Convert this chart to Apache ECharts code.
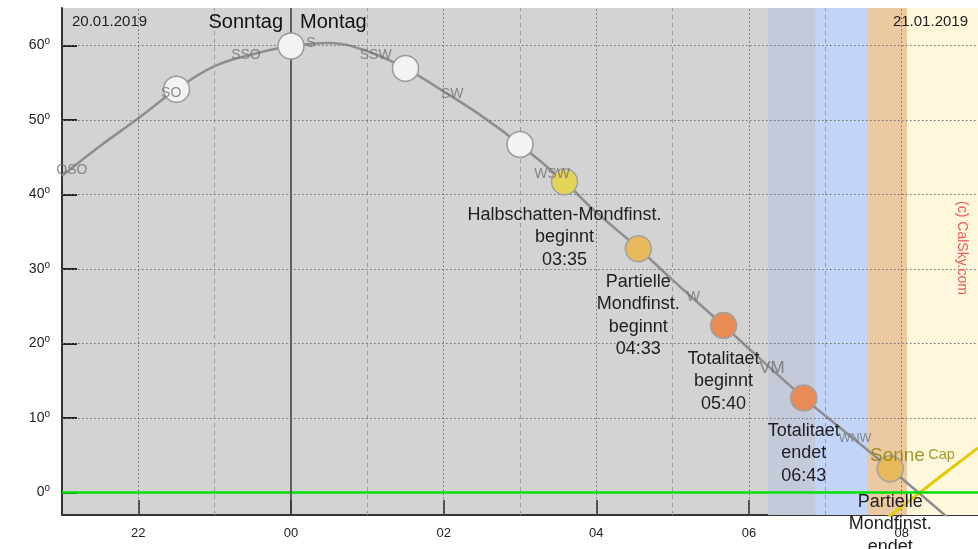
<!DOCTYPE html>
<html><head><meta charset="utf-8">
<script src="https://cdn.jsdelivr.net/npm/echarts@6/dist/echarts.min.js"></script>
<style>html,body{margin:0;padding:0;background:#fff}#c{width:978px;height:549px}</style>
</head><body><div id="c"></div>
<script>
const xTickHours = [22, 24, 26, 28, 30, 32];
const minorHours = [23, 25, 27, 29, 31, 33];
const yTickDeg = [0, 10, 20, 30, 40, 50, 60];
const moonHours = [21.0, 21.5, 22.0, 22.5, 23.0, 23.5, 24.0, 24.5, 25.0, 25.5, 26.0, 26.5, 27.0, 27.58, 28.0, 28.56, 29.0, 29.67, 30.0, 30.72, 31.0, 31.85, 32.7];
const moonAlt = [42.5, 46.5, 50.2, 54.1, 57.2, 58.8, 59.9, 60.3, 59.2, 56.9, 53.8, 50.5, 46.7, 41.7, 37.6, 32.7, 28.5, 22.4, 19.3, 12.7, 10.3, 3.2, -4.2];
const hourMarkHours = [22.5, 24.0, 25.5, 27.0];
const hourMarkAlt = [54.1, 59.9, 56.9, 46.7];
const eventHours = [27.583, 28.55, 29.667, 30.717, 31.85];
const eventAlt = [41.7, 32.7, 22.4, 12.7, 3.2];
const eventLabels = ['Halbschatten-Mondfinst.\nbeginnt\n03:35', 'Partielle\nMondfinst.\nbeginnt\n04:33', 'Totalitaet\nbeginnt\n05:40', 'Totalitaet\nendet\n06:43', 'Partielle\nMondfinst.\nendet'];
const eventColors = ['#e2d457', '#e6b95b', '#e88b55', '#e88b55', '#e6b95b'];
const compassLabels = ['OSO', 'SO', 'SSO', 'S', 'SSW', 'SW', 'WSW', 'W', 'VM', 'WNW'];
const compassHours = [21.13, 22.43, 23.41, 24.26, 25.11, 26.11, 27.42, 29.27, 30.30, 31.39];
const compassAlt = [43.3, 53.6, 58.7, 60.3, 58.7, 53.4, 42.7, 26.2, 16.7, 7.2];
const bandStarts = [30.25, 30.87, 31.55, 32.07];
const bandEnds = [30.87, 31.55, 32.07, 33.0];
const bandColors = ['#c5cadb', '#c2d4f8', '#ebc9a1', '#fef7dc'];
const sunHours = [31.5, 32.0, 32.5, 33.0];
const sunAlt = [-5.9, -1.9, 2.1, 6.0];

const chart = echarts.init(document.getElementById('c'));
const FONT = 'Liberation Sans';
const hourFmt = v => String(((v % 24) + 24) % 24).padStart(2, '0');

chart.setOption({
  animation: false,
  backgroundColor: '#ffffff',
  textStyle: { fontFamily: FONT },
  grid: { left: 62, right: 0, top: 8, bottom: 34, show: true, backgroundColor: '#d3d3d3', borderWidth: 0 },
  xAxis: {
    type: 'value', min: 21, max: 33, interval: 1,
    axisLine: { onZero: false, lineStyle: { color: '#333', width: 2 } },
    axisTick: { inside: true, length: 15, customValues: xTickHours, lineStyle: { color: '#222', width: 1.5 } },
    axisLabel: { customValues: xTickHours, formatter: hourFmt, color: '#222', fontSize: 13, margin: 12, fontFamily: FONT },
    splitLine: { show: false }
  },
  yAxis: {
    type: 'value', min: -3, max: 65, interval: 1,
    axisLine: { show: true, lineStyle: { color: '#333', width: 2 } },
    axisTick: { inside: true, length: 15, customValues: yTickDeg, lineStyle: { color: '#222', width: 2 } },
    axisLabel: {
      customValues: yTickDeg, formatter: v => v + '{s|o}', color: '#222', fontSize: 14, margin: 12, fontFamily: FONT,
      rich: { s: { fontSize: 10, verticalAlign: 'top', padding: [0, 0, 8, 0], color: '#222', fontFamily: FONT } }
    },
    splitLine: { show: false }
  },
  graphic: [
    { type: 'text', x: 72, y: 22, z: 100, style: { text: '20.01.2019', fill: '#222', font: '15px "Liberation Sans"', textAlign: 'left', textVerticalAlign: 'middle', verticalAlign: 'middle' } },
    { type: 'text', x: 283, y: 22, z: 100, style: { text: 'Sonntag', fill: '#111', font: '20px "Liberation Sans"', textAlign: 'right', textVerticalAlign: 'middle', verticalAlign: 'middle' } },
    { type: 'text', x: 300, y: 22, z: 100, style: { text: 'Montag', fill: '#111', font: '20px "Liberation Sans"', textAlign: 'left', textVerticalAlign: 'middle', verticalAlign: 'middle' } },
    { type: 'text', x: 968, y: 22, z: 100, style: { text: '21.01.2019', fill: '#222', font: '15px "Liberation Sans"', textAlign: 'right', textVerticalAlign: 'middle', verticalAlign: 'middle' } },
    { type: 'text', x: 962, y: 248, rotation: -Math.PI / 2, z: 100, style: { text: '(c) CalSky.com', fill: '#e85a5a', font: '14px "Liberation Sans"', textAlign: 'center', textVerticalAlign: 'middle', verticalAlign: 'middle' } }
  ],
  series: [
    {
      name: 'bands', type: 'line', data: [], z: 1, silent: true,
      markArea: {
        silent: true,
        data: bandStarts.map((s, i) => [{ xAxis: s, itemStyle: { color: bandColors[i] } }, { xAxis: bandEnds[i] }])
      }
    },
    {
      name: 'grid', type: 'line', data: [], z: 2, silent: true,
      markLine: {
        silent: true, symbol: ['none', 'none'], label: { show: false }, animation: false,
        data: [
          ...minorHours.map(h => ({ xAxis: h, lineStyle: { color: '#999', type: [4, 4], width: 1 } })),
          ...xTickHours.filter(h => h !== 24).map(h => ({ xAxis: h, lineStyle: { color: '#6a6a6a', type: [1.5, 2.5], width: 1 } })),
          ...yTickDeg.filter(d => d !== 0).map(d => ({ yAxis: d, lineStyle: { color: '#6a6a6a', type: [1.5, 2.5], width: 1 } })),
          { yAxis: 0, lineStyle: { color: '#00e000', type: 'solid', width: 2.5 } },
          { xAxis: 24, lineStyle: { color: '#4a3434', type: 'solid', width: 1.5 } }
        ]
      }
    },
    {
      name: 'Sonne', type: 'line', z: 3, silent: true, symbol: 'none',
      data: sunHours.map((h, i) => [h, sunAlt[i]]),
      lineStyle: { color: '#e0cc00', width: 3 }
    },
    {
      name: 'Mond', type: 'line', z: 4, silent: true, symbol: 'none', smooth: 0.4,
      data: moonHours.map((h, i) => [h, moonAlt[i]]),
      lineStyle: { color: '#8e8e8e', width: 2.5 }
    },
    {
      name: 'hours', type: 'scatter', z: 5, silent: true, symbolSize: 26,
      data: hourMarkHours.map((h, i) => [h, hourMarkAlt[i]]),
      itemStyle: { color: '#f3f3f3', borderColor: '#9a9a9a', borderWidth: 1.5, opacity: 1 }
    },
    {
      name: 'events', type: 'scatter', z: 6, silent: true, symbolSize: 26,
      data: eventHours.map((h, i) => ({ value: [h, eventAlt[i]], name: eventLabels[i], itemStyle: { color: eventColors[i] } })),
      itemStyle: { borderColor: '#a0a0a0', borderWidth: 1.5, opacity: 1 },
      label: { show: true, position: 'bottom', distance: 8, formatter: p => p.name, color: '#1e1e1e', fontSize: 18, lineHeight: 22.5, align: 'center', fontFamily: FONT }
    },
    {
      name: 'compass', type: 'scatter', z: 8, silent: true, symbolSize: 0,
      data: compassHours.map((h, i) => ({ value: [h, compassAlt[i]], name: compassLabels[i],
        label: compassLabels[i] === 'VM' ? { fontSize: 17, color: '#6a6a6a' } : (compassLabels[i] === 'WNW' ? { fontSize: 12.5 } : {}) })),
      label: { show: true, position: 'inside', formatter: p => p.name, color: '#727272', fontSize: 14, fontFamily: FONT }
    },
    {
      name: 'sunlabel', type: 'scatter', z: 8, silent: true, symbolSize: 0,
      data: [[31.585, 5.0]],
      label: { show: true, position: 'right', distance: 0, formatter: '{a|Sonne} {b|Cap}',
        rich: { a: { fontSize: 19, color: '#8a8000', fontFamily: FONT }, b: { fontSize: 14.5, color: '#8a8000', fontFamily: FONT } } }
    }
  ]
});
</script>
</body></html>
